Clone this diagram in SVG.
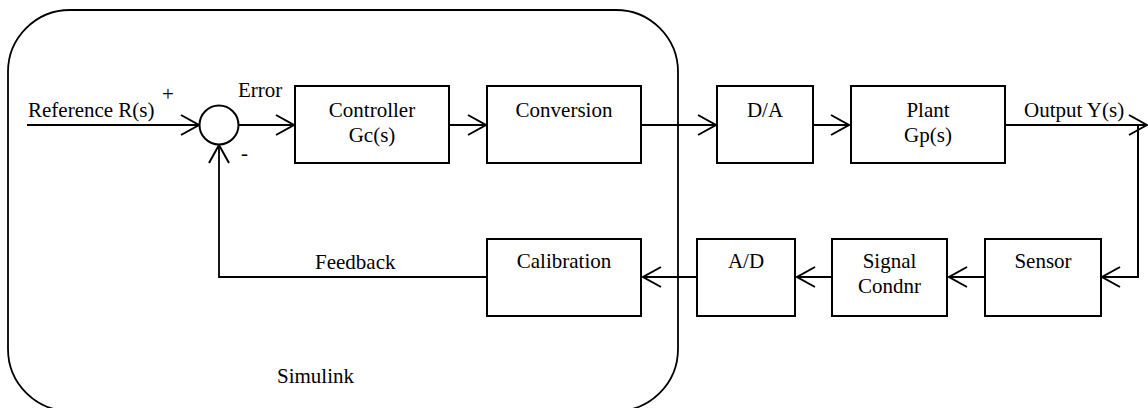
<svg xmlns="http://www.w3.org/2000/svg" width="1148" height="408" viewBox="0 0 1148 408">
<style>
text{font-family:"Liberation Serif","Times New Roman","DejaVu Serif",serif;font-size:21px;fill:#000000}
.c{text-anchor:middle}
.box{fill:#ffffff;stroke:#000000;stroke-width:2}
.ln{fill:none;stroke:#000000;stroke-width:2}
.fb{fill:none;stroke:#000000;stroke-width:1.8}
</style>
<defs>
<marker id="arr" markerUnits="userSpaceOnUse" viewBox="0 0 22 22" markerWidth="22" markerHeight="22" refX="19" refY="11" orient="auto">
<path d="M1,1 L19,11 L1,21" fill="none" stroke="#000000" stroke-width="2"/>
</marker>
</defs>
<rect width="1148" height="408" fill="#ffffff"/>
<g id="simulink" font-family="Liberation Serif, Times New Roman, serif" font-size="21">
<rect x="8" y="10" width="670" height="401" rx="62" ry="62" fill="none" stroke="#000000" stroke-width="1.8"/>
<text x="277" y="383" fill="#000000">Simulink</text>
</g>
<g id="connectors" font-family="Liberation Serif, Times New Roman, serif" font-size="21" fill="#000000">
<line class="ln" x1="27" y1="125" x2="199" y2="125" marker-end="url(#arr)"/>
<line class="ln" x1="239" y1="125" x2="294" y2="125" marker-end="url(#arr)"/>
<line class="ln" x1="449" y1="125" x2="486" y2="125" marker-end="url(#arr)"/>
<line class="ln" x1="641" y1="125" x2="716" y2="125" marker-end="url(#arr)"/>
<line class="ln" x1="813" y1="125" x2="849" y2="125" marker-end="url(#arr)"/>
<line class="ln" x1="1005" y1="125" x2="1147" y2="125" marker-end="url(#arr)"/>
<polyline class="ln" points="1138,125 1138,277 1102,277" marker-end="url(#arr)"/>
<line class="ln" x1="985" y1="277" x2="949" y2="277" marker-end="url(#arr)"/>
<line class="ln" x1="832" y1="277" x2="797" y2="277" marker-end="url(#arr)"/>
<line class="ln" x1="697" y1="277" x2="643" y2="277" marker-end="url(#arr)"/>
<polyline class="fb" points="487,277 219,277 219,145" marker-end="url(#arr)"/>
<text x="28" y="117">Reference R(s)</text>
<text x="162" y="101" fill="#000000">+</text>
<text x="241" y="160">-</text>
<text x="238" y="97">Error</text>
<text x="1024" y="117">Output Y(s)</text>
<text x="315" y="269">Feedback</text>
</g>
<g id="sum">
<circle cx="219" cy="125" r="19.5" fill="#ffffff" stroke="#000000" stroke-width="2"/>
</g>
<g id="controller" font-family="Liberation Serif, Times New Roman, serif" font-size="21">
<rect class="box" x="295" y="86" width="154" height="77"/>
<text class="c" x="372" y="117">Controller</text>
<text class="c" x="372" y="142">Gc(s)</text>
</g>
<g id="conversion" font-family="Liberation Serif, Times New Roman, serif" font-size="21">
<rect class="box" x="487" y="86" width="154" height="77"/>
<text class="c" x="564" y="117">Conversion</text>
</g>
<g id="da" font-family="Liberation Serif, Times New Roman, serif" font-size="21">
<rect class="box" x="717" y="86" width="96" height="77"/>
<text class="c" x="765" y="117">D/A</text>
</g>
<g id="plant" font-family="Liberation Serif, Times New Roman, serif" font-size="21">
<rect class="box" x="851" y="86" width="154" height="77"/>
<text class="c" x="928" y="117">Plant</text>
<text class="c" x="928" y="142">Gp(s)</text>
</g>
<g id="sensor" font-family="Liberation Serif, Times New Roman, serif" font-size="21">
<rect class="box" x="985" y="239" width="116" height="77"/>
<text class="c" x="1043" y="268">Sensor</text>
</g>
<g id="signal" font-family="Liberation Serif, Times New Roman, serif" font-size="21">
<rect class="box" x="832" y="239" width="115" height="77"/>
<text class="c" x="889.5" y="268">Signal</text>
<text class="c" x="889.5" y="293">Condnr</text>
</g>
<g id="ad" font-family="Liberation Serif, Times New Roman, serif" font-size="21">
<rect class="box" x="697" y="239" width="98" height="77"/>
<text class="c" x="746" y="268">A/D</text>
</g>
<g id="calibration" font-family="Liberation Serif, Times New Roman, serif" font-size="21">
<rect class="box" x="487" y="239" width="154" height="77"/>
<text class="c" x="564" y="268">Calibration</text>
</g>
</svg>
